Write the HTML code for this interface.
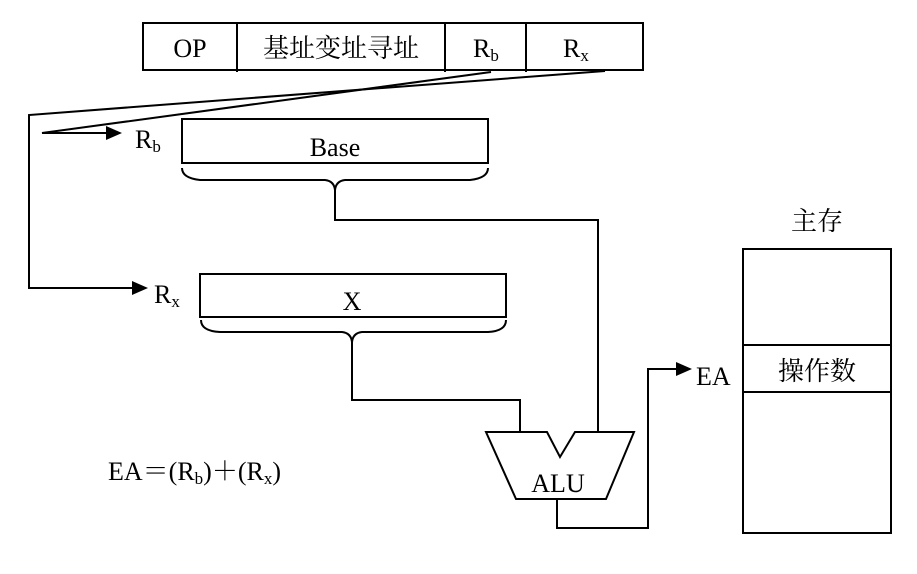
<!DOCTYPE html>
<html><head><meta charset="utf-8"><style>
html,body{margin:0;padding:0;background:#fff;}
svg{display:block;}
text{font-family:"Liberation Serif","Noto Serif CJK SC","Noto Sans CJK SC",serif;fill:#000;}
</style></head><body>
<svg width="917" height="574" viewBox="0 0 917 574" xmlns="http://www.w3.org/2000/svg">
<g fill="none" stroke="#000" stroke-width="2">
<rect x="143" y="23" width="500" height="47"/>
<line x1="237" y1="23" x2="237" y2="72"/>
<line x1="445" y1="23" x2="445" y2="72"/>
<line x1="526" y1="23" x2="526" y2="72"/>
<polyline points="605,71 29,115 29,288 138,288"/>
<polyline points="491,72 42,133 108,133"/>
<rect x="182" y="119" width="306" height="44"/>
<path d="M182,168 Q182,178 200,180 L325,180 Q334,181 335,190 Q336,181 345,180 L470,180 Q488,178 488,168"/>
<polyline points="335,190 335,220 598,220 598,432"/>
<rect x="200" y="274" width="306" height="43"/>
<path d="M201,320 Q201,331 220,332 L342,332 Q351,333 352,342 Q353,333 362,332 L488,332 Q506,331 506,320"/>
<polyline points="352,342 352,400 520,400 520,432"/>
<polygon points="486,432 547,432 560,457 575,432 634,432 606,499 516,499"/>
<polyline points="557,499 557,528 648,528 648,369 680,369"/>
<rect x="743" y="249" width="148" height="284"/>
<line x1="743" y1="345" x2="891" y2="345"/>
<line x1="743" y1="392" x2="891" y2="392"/>
</g>
<g fill="#000">
<polygon points="106,126 106,140 122,133"/>
<polygon points="132,281 132,295 148,288"/>
<polygon points="676,362 676,376 692,369"/>
</g>
<g font-size="26">
<text x="190" y="57" text-anchor="middle">OP</text>
<text x="341" y="57" text-anchor="middle">基址变址寻址</text>
<text x="473" y="57">R<tspan font-size="17" dy="4">b</tspan></text>
<text x="563" y="57">R<tspan font-size="17" dy="4">x</tspan></text>
<text x="135" y="148">R<tspan font-size="17" dy="4">b</tspan></text>
<text x="335" y="156" text-anchor="middle">Base</text>
<text x="154" y="303">R<tspan font-size="17" dy="4">x</tspan></text>
<text x="352" y="310" text-anchor="middle">X</text>
<text x="558" y="492" text-anchor="middle">ALU</text>
<text x="696" y="385">EA</text>
<text x="817" y="230" text-anchor="middle">主存</text>
<text x="817" y="380" text-anchor="middle">操作数</text>
<text x="108" y="480">EA＝(R<tspan font-size="17" dy="4">b</tspan><tspan dy="-4">)＋(R</tspan><tspan font-size="17" dy="4">x</tspan><tspan dy="-4">)</tspan></text>
</g>
</svg>
</body></html>
